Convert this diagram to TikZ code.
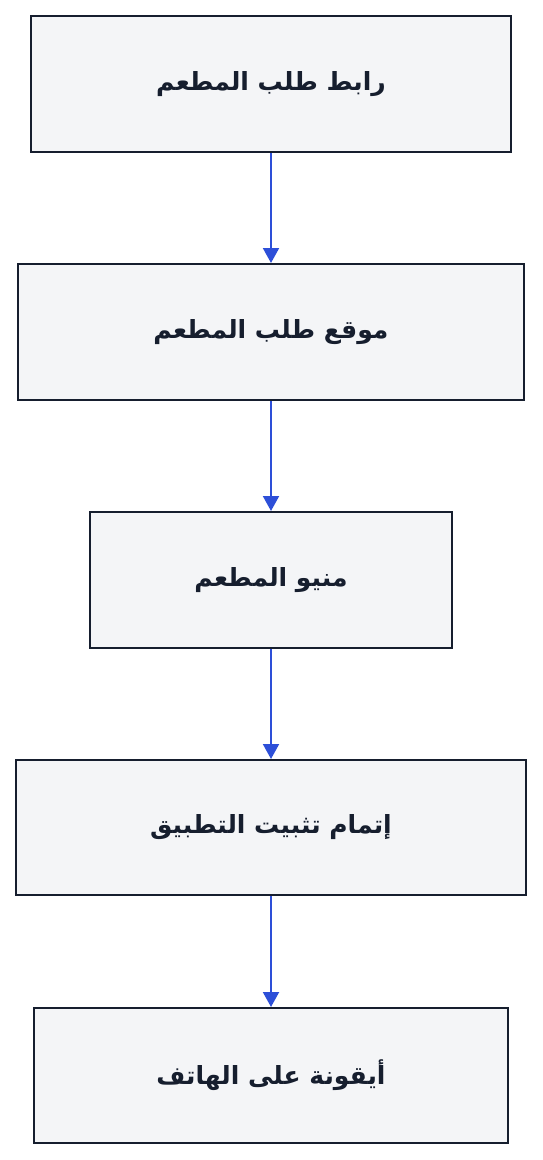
\documentclass[tikz,border=0pt]{standalone}
\usepackage{fontspec}
\newfontfamily\arabicfont[Script=Arabic]{DejaVu Sans}
\TeXXeTstate=1
\usetikzlibrary{arrows.meta}
\definecolor{boxfill}{HTML}{F4F5F7}
\definecolor{boxline}{HTML}{161E2E}
\definecolor{arrowblue}{HTML}{2D4FD8}
\begin{document}
\begin{tikzpicture}[x=1pt,y=-1pt,
  stepbox/.style={draw=boxline,fill=boxfill,line width=2pt,rectangle,inner sep=0pt,
    font=\arabicfont\bfseries\fontsize{25}{30}\selectfont,text=boxline},
  flow/.style={draw=arrowblue,line width=2pt,-{Triangle[width=16pt,length=15pt]}}]
\useasboundingbox (0,0) rectangle (542,1160);
\node[stepbox,minimum width=480pt,minimum height=136pt] (a) at (271,84) {\beginR رابط طلب المطعم\endR};
\node[stepbox,minimum width=506pt,minimum height=136pt] (b) at (271,332) {\beginR موقع طلب المطعم\endR};
\node[stepbox,minimum width=362pt,minimum height=136pt] (c) at (271,580) {\beginR منيو المطعم\endR};
\node[stepbox,minimum width=510pt,minimum height=135pt] (d) at (271,827.5) {\beginR إتمام تثبيت التطبيق\endR};
\node[stepbox,minimum width=474pt,minimum height=135pt] (e) at (271,1075.5) {\beginR أيقونة على الهاتف\endR};
\draw[flow] (a) -- (b);
\draw[flow] (b) -- (c);
\draw[flow] (c) -- (d);
\draw[flow] (d) -- (e);
\end{tikzpicture}
\end{document}
